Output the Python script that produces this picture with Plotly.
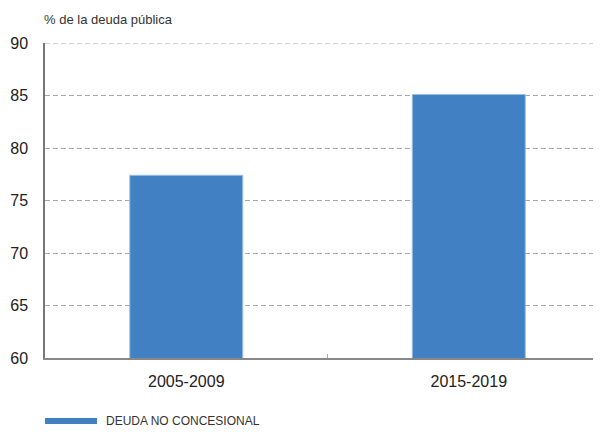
import plotly.graph_objects as go

categories = ["2005-2009", "2015-2019"]
values = [77.4, 85.1]
series_name = "DEUDA NO CONCESIONAL"
y_ticks = [60, 65, 70, 75, 80, 85, 90]

BLUE = "#4080C3"
GRID = "#a8a8a8"
FONT = "Liberation Sans, Arial, sans-serif"

# the page body has an 8px default margin, so the figure is sized to fit
fig = go.Figure()
fig.add_trace(go.Bar(
    x=categories, y=values, name=series_name,
    marker=dict(color=BLUE, line=dict(color="#9DBFE3", width=1)),
    width=0.4, showlegend=False,
))

fig.update_layout(
    width=593, height=424,
    margin=dict(l=37, r=0, t=35, b=74),
    plot_bgcolor="white", paper_bgcolor="white",
    font=dict(family=FONT, color="#222", size=16),
    xaxis=dict(
        type="category", range=[-0.5, 1.468],
        showline=True, linecolor="#888", linewidth=1.5,
        ticks="inside", tickson="boundaries", ticklen=4, tickcolor="#aaa",
        showgrid=False, tickfont=dict(size=16, color="#222"),
        ticklabelstandoff=8,
    ),
    yaxis=dict(
        range=[y_ticks[0], y_ticks[-1]], tickvals=y_ticks,
        showline=True, linecolor="#777", linewidth=1.5,
        showgrid=True, gridcolor=GRID, griddash="5px,3px", gridwidth=1,
        zeroline=False, ticks="", ticklabelstandoff=12,
        tickfont=dict(size=16, color="#222"),
    ),
)

# top gridline (plotly omits the grid line at the range edge)
fig.add_shape(
    type="line", xref="paper", yref="y", x0=0, x1=1,
    y0=y_ticks[-1], y1=y_ticks[-1],
    line=dict(color=GRID, width=1, dash="5px,3px"), layer="below",
)

fig.add_annotation(
    xref="paper", yref="paper", x=0, y=1, xshift=-3, yshift=14,
    xanchor="left", yanchor="bottom", showarrow=False,
    text="% de la deuda pública", font=dict(size=13, color="#333"),
)

# legend swatch + label
fig.add_shape(
    type="rect", xref="paper", yref="paper",
    x0=0, x1=52 / 556, y0=-60 / 315, y1=-66 / 315,
    fillcolor=BLUE, line=dict(width=0),
)
fig.add_annotation(
    xref="paper", yref="paper", x=59 / 556, y=-63 / 315,
    xanchor="left", yanchor="middle", showarrow=False,
    text=series_name,
    font=dict(family="Liberation Sans Narrow, Liberation Sans, Arial", size=12, color="#333"),
)

fig.write_html("out.html")
